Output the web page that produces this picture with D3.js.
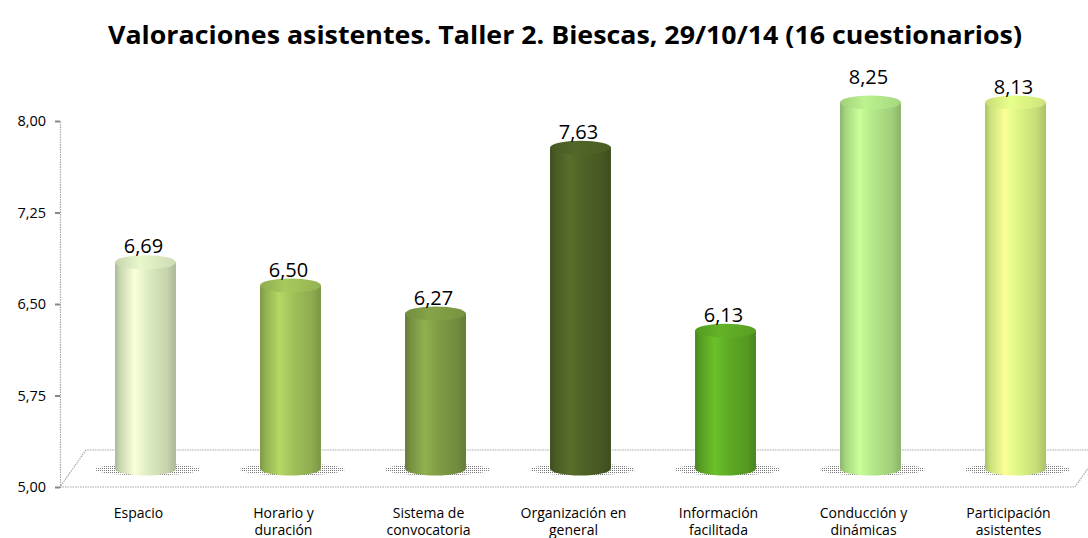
<!DOCTYPE html>
<html>
<head>
<meta charset="utf-8">
<script src="https://cdn.jsdelivr.net/npm/d3@7"></script>
<style>
  html, body { margin: 0; padding: 0; background: #fff; }
  #chart { width: 1088px; height: 538px; overflow: hidden; }
  text { font-family: 'Open Sans', 'Liberation Sans', sans-serif; }
</style>
</head>
<body>
<div id="chart"></div>
<script>
// chart data
const title = 'Valoraciones asistentes. Taller 2. Biescas, 29/10/14 (16 cuestionarios)';
const categories = [
  ['Espacio'],
  ['Horario y', 'duración'],
  ['Sistema de', 'convocatoria'],
  ['Organización en', 'general'],
  ['Información', 'facilitada'],
  ['Conducción y', 'dinámicas'],
  ['Participación', 'asistentes']
];
const values = [6.69, 6.50, 6.27, 7.63, 6.13, 8.25, 8.13];
const barColors = ['#dcebc0', '#9fbf58', '#7f9c45', '#4e6226', '#5eaa25', '#b2e688', '#dcf584'];
const yTicks = [5.00, 5.75, 6.50, 7.25, 8.00];

const W = 1088, H = 538;
const M = { t: 121, r: 13, b: 51, l: 60 };
const depth = { x: 26, y: 37 };   // floor back edge offset
const mid = { x: depth.x / 2, y: depth.y / 2 };

const svg = d3.select('#chart').append('svg')
  .attr('width', W)
  .attr('height', H)
  .attr('viewBox', `0 0 ${W} ${H}`)
  .style('display', 'block');

const keys = categories.map(c => c.join(' '));

const x = d3.scaleBand()
  .domain(keys)
  .range([M.l, W - M.r])
  .padding(0);
const y = d3.scaleLinear()
  .domain([yTicks[0], yTicks[yTicks.length - 1]])
  .range([H - M.b, M.t])
  .clamp(true);
const yRaw = y.copy().clamp(false);

const defs = svg.append('defs');

// stipple pattern for the floor shadows
const pat = defs.append('pattern')
  .attr('id', 'stip')
  .attr('width', 2).attr('height', 2)
  .attr('patternUnits', 'userSpaceOnUse');
pat.append('rect').attr('width', 1).attr('height', 1).attr('fill', '#555');

// title
svg.append('text')
  .attr('x', 565)
  .attr('y', 44)
  .attr('text-anchor', 'middle')
  .attr('font-size', 25)
  .attr('font-weight', 700)
  .attr('textLength', 914)
  .attr('lengthAdjust', 'spacingAndGlyphs')
  .attr('fill', '#000')
  .text(title);

// floor
const x0 = M.l, x1 = W - M.r, yf = y(yTicks[0]);
svg.append('path')
  .attr('d', `M${x0},${yf}L${x1},${yf}L${x1 + depth.x},${yf - depth.y}L${x0 + depth.x},${yf - depth.y}Z`)
  .attr('fill', 'none')
  .attr('stroke', '#a6a6a6')
  .attr('stroke-width', 1.2)
  .attr('stroke-dasharray', '1.5,1');

// y axis
const yAxis = svg.append('g')
  .attr('transform', `translate(${M.l},0)`)
  .call(d3.axisLeft(y).tickValues(yTicks).tickSize(5).tickPadding(9)
    .tickFormat(d => d.toFixed(2).replace('.', ',')));
yAxis.select('.domain')
  .attr('stroke', '#a6a6a6')
  .attr('stroke-width', 1.2)
  .attr('stroke-dasharray', '1.5,1');
yAxis.selectAll('.tick line').attr('stroke', '#888').attr('stroke-width', 2);
yAxis.selectAll('.tick text')
  .attr('font-size', 14.5)
  .attr('fill', '#000')
  .style('font-family', "'Open Sans', sans-serif");

// category labels
const xl = svg.append('g');
categories.forEach((lines, i) => {
  const cx = x(keys[i]) + x.bandwidth() / 2 + 6;
  const t = xl.append('text')
    .attr('x', cx)
    .attr('y', 518)
    .attr('text-anchor', 'middle')
    .attr('font-size', 14)
    .attr('fill', '#000');
  lines.forEach((l, j) => {
    t.append('tspan')
      .attr('x', cx)
      .attr('dy', j === 0 ? 0 : 17)
      .text(l);
  });
});

// cylinders
const bw = x.bandwidth() * 0.42;
const rx = bw / 2, ry = 7;

const bars = values.map((v, i) => ({
  v, i,
  cx: x(keys[i]) + x.bandwidth() / 2 + mid.x,
  top: y(v) - mid.y,
  bottom: y(yTicks[0]) - mid.y,
  color: barColors[i]
}));

bars.forEach(b => {
  const c = d3.color(b.color);
  const g = defs.append('linearGradient')
    .attr('id', 'body' + b.i)
    .attr('x1', 0).attr('x2', 1).attr('y1', 0).attr('y2', 0);
  [[0, c.darker(0.7)], [0.08, c.darker(0.25)], [0.32, c.brighter(0.35)], [0.55, c], [0.85, c.darker(0.3)], [1, c.darker(0.7)]]
    .forEach(s => g.append('stop').attr('offset', s[0]).attr('stop-color', s[1]));
  const gt = defs.append('linearGradient')
    .attr('id', 'top' + b.i)
    .attr('x1', 0).attr('x2', 1).attr('y1', 0).attr('y2', 0);
  [[0, c.darker(0.3)], [0.4, c.brighter(0.15)], [1, c.darker(0.2)]]
    .forEach(s => gt.append('stop').attr('offset', s[0]).attr('stop-color', s[1]));
});

const bg = svg.append('g');

// shadows on the floor
bg.selectAll('ellipse.shadow')
  .data(bars)
  .enter().append('ellipse')
  .attr('class', 'shadow')
  .attr('cx', d => d.cx + 2)
  .attr('cy', d => d.bottom + 1)
  .attr('rx', rx + 22)
  .attr('ry', 6)
  .attr('fill', 'url(#stip)')
  .attr('opacity', 0.8);

bg.selectAll('path.body')
  .data(bars)
  .enter().append('path')
  .attr('class', 'body')
  .attr('d', d => `M${d.cx - rx},${d.top}L${d.cx - rx},${d.bottom}A${rx},${ry} 0 0 0 ${d.cx + rx},${d.bottom}L${d.cx + rx},${d.top}Z`)
  .attr('fill', d => `url(#body${d.i})`);

bg.selectAll('ellipse.top')
  .data(bars)
  .enter().append('ellipse')
  .attr('class', 'top')
  .attr('cx', d => d.cx)
  .attr('cy', d => d.top)
  .attr('rx', rx)
  .attr('ry', ry)
  .attr('fill', d => `url(#top${d.i})`);

// value labels
bg.selectAll('text.val')
  .data(bars)
  .enter().append('text')
  .attr('class', 'val')
  .attr('x', d => d.cx - 2)
  .attr('y', d => Math.min(d.top - 9, yRaw(d.v) - 7))
  .attr('text-anchor', 'middle')
  .attr('font-size', 20)
  .attr('fill', '#000')
  .text(d => d.v.toFixed(2).replace('.', ','));
</script>
</body>
</html>
